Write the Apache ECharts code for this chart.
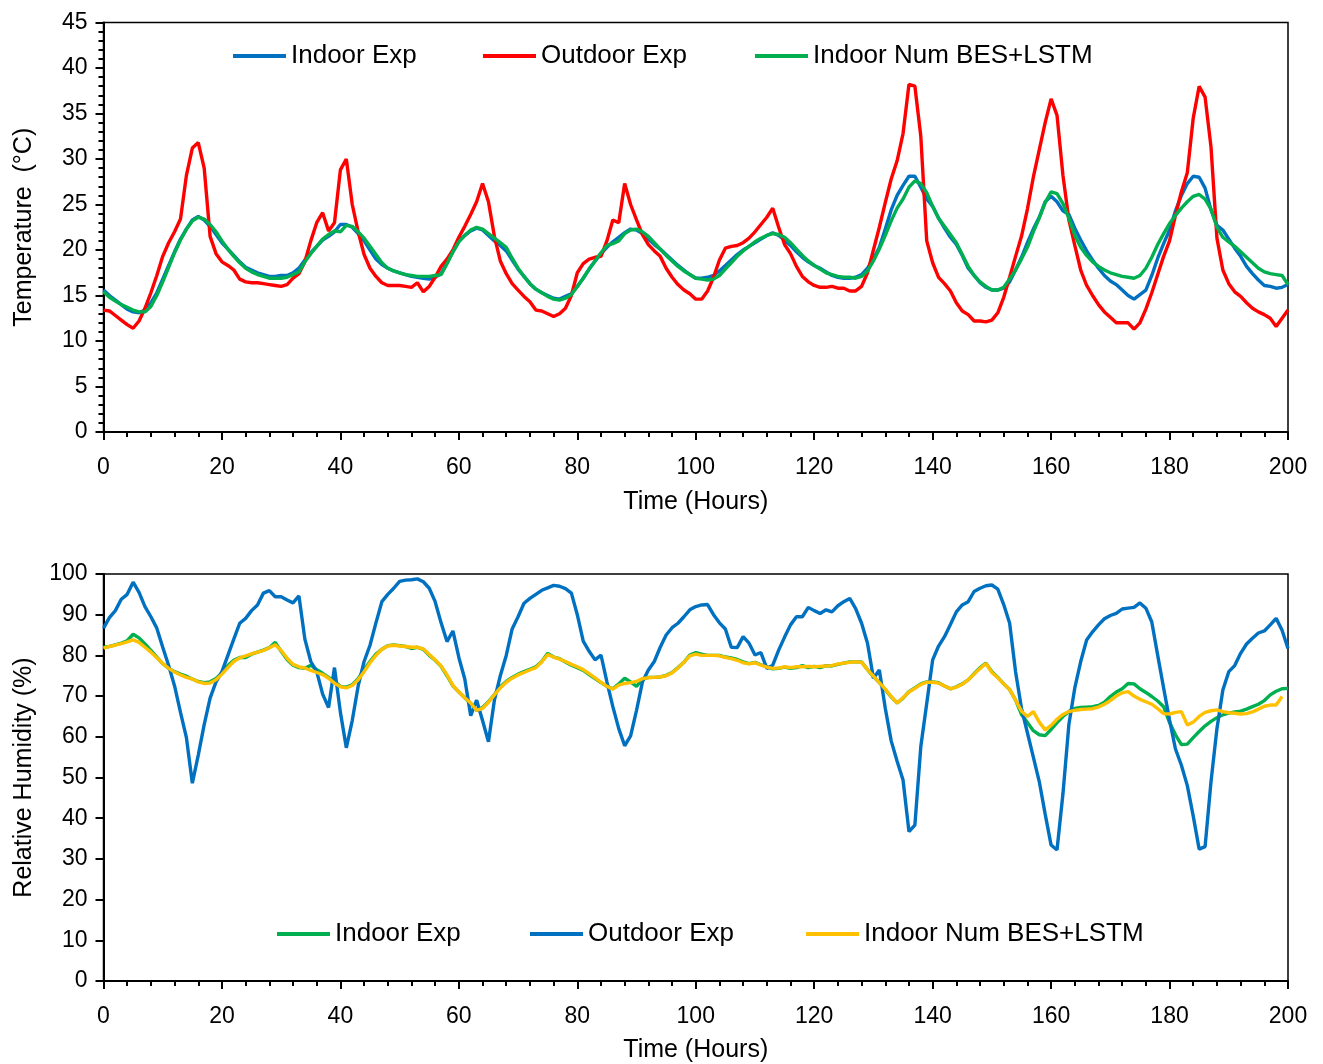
<!DOCTYPE html>
<html>
<head>
<meta charset="utf-8">
<title>Indoor / outdoor temperature and relative humidity</title>
<script src="https://cdn.jsdelivr.net/npm/echarts@6/dist/echarts.min.js"></script>
<style>
  html, body { margin: 0; padding: 0; background: #fff; overflow: hidden; }
  #temp { position: absolute; left: 0; top: 0; width: 1323px; height: 532px; }
  #rh   { position: absolute; left: 0; top: 532px; width: 1323px; height: 532px; }
</style>
</head>
<body>
<div id="temp"></div>
<div id="rh"></div>
<script>
// Hourly time stamps (0 .. 200 h)
const HOURS = Array.from({ length: 201 }, (_, i) => i);

// Temperature (°C)
const tempIndoorExp = [
  15.6,15.0,14.5,14.0,13.5,13.2,13.1,13.4,14.2,15.3,16.8,18.3,19.8,21.2,22.3,23.3,23.7,23.3,22.6,21.7,
  20.8,20.1,19.4,18.7,18.1,17.8,17.5,17.3,17.1,17.1,17.2,17.2,17.5,18.0,18.9,19.7,20.4,21.1,21.5,22.0,
  22.8,22.8,22.5,21.8,21.0,20.0,19.0,18.4,18.0,17.7,17.5,17.3,17.1,17.0,16.9,16.8,17.0,17.4,18.6,19.8,
  21.0,21.6,22.1,22.4,22.2,21.6,21.0,20.5,19.9,18.9,17.9,17.1,16.3,15.7,15.3,15.0,14.7,14.6,14.9,15.2,
  16.0,16.9,17.9,18.8,19.6,20.3,20.9,21.4,21.9,22.3,22.2,21.8,21.2,20.6,20.1,19.5,18.9,18.3,17.8,17.3,
  16.9,16.9,17.0,17.2,17.7,18.3,18.9,19.5,20.0,20.4,20.8,21.2,21.6,21.9,21.6,21.1,20.5,19.8,19.2,18.7,
  18.3,18.0,17.6,17.2,17.0,16.9,16.9,17.0,17.3,18.0,19.0,20.3,22.3,24.4,26.0,27.1,28.1,28.1,26.9,25.6,
  24.8,23.5,22.4,21.4,20.6,19.4,18.0,17.2,16.4,15.9,15.6,15.6,15.8,16.5,17.8,19.2,20.8,22.3,23.6,25.3,
  25.9,25.3,24.3,23.9,22.4,21.1,19.9,18.9,18.0,17.2,16.6,16.2,15.6,15.0,14.6,15.1,15.6,17.2,19.1,20.7,
  22.2,24.3,26.0,27.3,28.1,28.0,26.8,24.4,22.7,22.2,21.2,20.2,19.3,18.2,17.4,16.7,16.1,16.0,15.8,15.9,
  16.2
];
const tempOutdoorExp = [
  13.4,13.3,12.8,12.3,11.8,11.4,12.2,13.6,15.3,17.2,19.3,20.8,22.0,23.4,28.2,31.2,31.8,29.0,21.5,19.6,
  18.7,18.3,17.8,16.8,16.5,16.4,16.4,16.3,16.2,16.1,16.0,16.2,16.9,17.4,18.7,21.0,23.0,24.1,22.1,23.0,
  28.8,30.0,25.0,22.0,19.5,18.0,17.1,16.4,16.1,16.1,16.1,16.0,15.9,16.4,15.4,16.0,17.0,18.2,19.0,20.0,
  21.4,22.6,23.9,25.3,27.3,25.3,21.5,18.8,17.4,16.3,15.6,14.9,14.3,13.4,13.3,13.0,12.7,13.0,13.6,15.0,
  17.5,18.5,19.0,19.2,19.3,21.0,23.3,23.0,27.3,25.0,23.3,21.7,20.6,19.9,19.3,18.0,17.0,16.2,15.6,15.2,
  14.6,14.6,15.5,17.0,18.9,20.2,20.4,20.5,20.8,21.3,22.0,22.8,23.6,24.6,22.5,20.6,19.6,18.2,17.1,16.5,
  16.1,15.9,15.9,16.0,15.8,15.8,15.5,15.5,16.0,17.5,20.0,22.5,25.2,27.8,29.8,32.8,38.2,38.0,32.5,21.0,
  18.6,17.0,16.3,15.5,14.2,13.3,12.9,12.2,12.2,12.1,12.3,13.1,14.8,17.0,19.3,21.5,24.5,28.0,31.0,34.0,
  36.6,34.8,28.2,23.3,20.5,17.8,16.1,15.0,14.0,13.2,12.6,12.0,12.0,12.0,11.3,12.0,13.5,15.3,17.3,19.3,
  21.0,23.8,26.4,28.5,34.5,38.0,36.8,31.3,21.3,17.8,16.3,15.4,14.9,14.2,13.6,13.2,12.9,12.5,11.6,12.5,
  13.4
];
const tempIndoorNum = [
  15.4,14.8,14.4,14.0,13.7,13.4,13.2,13.2,13.8,15.0,16.5,18.1,19.7,21.1,22.3,23.2,23.6,23.4,22.8,22.0,
  21.0,20.1,19.3,18.6,18.0,17.6,17.3,17.1,16.9,16.9,16.9,17.0,17.3,17.6,18.7,19.6,20.4,21.2,21.7,22.1,
  22.0,22.7,22.6,22.0,21.3,20.4,19.5,18.6,18.0,17.7,17.5,17.3,17.2,17.1,17.1,17.1,17.2,17.3,18.5,19.8,
  20.9,21.6,22.2,22.5,22.3,21.8,21.3,20.8,20.3,19.1,18.0,17.1,16.3,15.7,15.3,14.9,14.6,14.5,14.7,15.1,
  16.0,16.9,17.9,18.8,19.7,20.5,20.7,21.0,21.8,22.2,22.3,22.0,21.5,20.8,20.1,19.4,18.8,18.2,17.7,17.3,
  16.9,16.8,16.7,16.8,17.2,17.9,18.6,19.3,19.9,20.4,20.9,21.3,21.6,21.8,21.7,21.4,20.8,20.1,19.4,18.8,
  18.3,17.9,17.5,17.3,17.1,17.0,17.0,16.9,17.1,17.7,18.8,20.1,21.6,23.2,24.6,25.6,26.9,27.6,27.3,26.3,
  24.8,23.5,22.6,21.7,20.8,19.5,18.2,17.2,16.5,16.0,15.6,15.6,15.9,16.8,17.8,19.0,20.3,22.0,23.5,25.2,
  26.4,26.2,25.1,23.5,21.6,20.3,19.4,18.7,18.2,17.8,17.5,17.3,17.1,17.0,16.9,17.2,18.0,19.2,20.6,21.8,
  22.9,23.8,24.6,25.3,25.9,26.1,25.6,24.5,22.5,21.4,20.9,20.4,19.8,19.2,18.6,18.0,17.6,17.4,17.3,17.2,
  16.2
];

// Relative humidity (%)
const rhIndoorExp = [
  82.0,82.2,82.6,83.0,83.6,85.2,84.3,82.8,81.2,79.6,78.0,76.8,76.0,75.4,74.9,74.2,73.6,73.3,73.5,74.3,
  75.7,77.5,78.8,79.5,79.5,80.3,80.8,81.3,81.9,83.2,81.0,79.0,77.6,77.0,76.8,77.6,76.5,75.6,74.6,73.6,
  72.4,72.2,72.8,74.3,76.5,78.5,80.3,81.5,82.4,82.6,82.4,82.2,81.7,82.0,81.5,80.0,78.8,77.3,75.0,72.5,
  71.0,69.6,68.2,66.5,67.2,68.6,70.4,72.3,73.6,74.6,75.4,76.0,76.6,77.2,78.5,80.5,79.6,79.2,78.4,77.6,
  77.0,76.3,75.3,74.3,73.3,72.4,71.8,73.0,74.4,73.5,72.4,74.2,74.6,74.6,74.7,75.1,75.8,77.0,78.3,80.1,
  80.7,80.3,80.0,80.0,80.0,79.6,79.4,79.0,78.4,78.0,78.3,77.7,77.2,76.7,76.8,77.1,76.8,77.0,77.5,77.0,
  77.3,77.0,77.5,77.4,77.8,78.1,78.4,78.4,78.4,76.5,74.8,73.3,71.6,69.8,68.3,69.5,71.1,72.0,73.0,73.5,
  73.5,73.3,72.5,71.8,72.3,73.0,74.0,75.5,77.0,78.1,76.0,74.6,73.0,71.6,69.0,65.5,63.5,61.5,60.5,60.3,
  61.8,63.5,65.0,66.2,67.0,67.2,67.3,67.4,67.7,68.5,69.9,71.0,71.8,73.1,73.0,71.8,70.9,69.9,68.8,67.4,
  63.5,60.5,58.1,58.2,59.8,61.3,62.7,63.8,64.7,65.4,65.8,66.1,66.3,66.8,67.4,68.0,68.9,70.3,71.2,71.8,
  71.9
];
const rhOutdoorExp = [
  86.7,89.3,91.0,93.8,95.0,98.0,95.5,92.0,89.5,86.7,82.0,77.5,72.5,66.0,59.8,48.6,55.5,63.0,69.5,73.5,
  76.0,80.0,84.0,87.9,89.1,91.0,92.4,95.3,95.9,94.4,94.4,93.6,92.9,94.6,84.0,78.5,76.0,70.5,67.2,77.0,
  66.0,57.3,64.0,72.5,78.5,82.5,88.0,93.2,95.0,96.5,98.2,98.5,98.6,98.8,98.1,96.5,93.2,88.0,83.4,86.0,
  79.5,74.2,65.2,69.0,64.0,58.8,69.0,75.0,80.0,86.5,89.5,92.8,94.0,95.0,96.0,96.6,97.2,97.0,96.4,95.3,
  90.0,83.5,81.0,78.9,80.1,73.5,67.4,62.0,57.8,60.2,66.5,73.5,76.4,78.5,82.0,85.0,86.8,87.9,89.5,91.2,
  92.0,92.4,92.5,90.0,88.0,86.5,82.0,81.9,84.6,83.0,80.1,80.7,76.8,77.6,81.3,84.5,87.5,89.5,89.5,91.8,
  91.0,90.3,91.2,90.7,92.2,93.2,94.0,91.5,87.9,83.0,74.4,76.4,67.0,59.0,54.0,49.4,36.7,38.3,57.6,68.2,
  78.9,82.3,84.6,87.6,90.7,92.4,93.2,95.7,96.5,97.1,97.3,96.3,92.5,87.9,76.0,67.0,61.0,55.0,49.0,41.0,
  33.4,32.2,46.0,63.0,72.0,78.5,83.8,85.8,87.5,89.0,89.8,90.3,91.4,91.6,91.8,92.9,91.6,88.2,80.0,72.0,
  64.1,57.0,53.0,48.0,40.5,32.4,33.0,49.0,62.0,71.5,76.0,77.5,80.5,82.8,84.2,85.5,86.0,87.5,89.1,86.2,
  81.7
];
const rhIndoorNum = [
  81.8,82.2,82.5,82.9,83.3,83.8,83.2,82.0,80.8,79.4,78.0,76.8,75.9,75.2,74.6,74.2,73.5,73.1,73.2,74.0,
  75.4,77.0,78.5,79.4,79.9,80.4,80.8,81.2,81.9,82.6,81.2,79.3,77.8,77.2,76.9,76.3,75.8,75.3,74.4,73.2,
  72.3,72.0,72.6,74.0,76.0,78.2,80.0,81.5,82.3,82.5,82.3,82.2,82.0,82.0,81.6,80.2,78.9,77.4,75.2,72.6,
  71.0,69.6,68.3,66.5,67.0,68.5,70.3,72.0,73.4,74.4,75.2,75.8,76.4,77.0,78.4,80.2,79.6,79.1,78.5,77.8,
  77.2,76.5,75.5,74.5,73.4,72.4,71.7,72.7,73.1,73.3,73.6,74.3,74.5,74.6,74.7,75.0,75.7,76.9,78.3,79.9,
  80.3,80.0,80.0,80.0,79.9,79.5,79.2,78.8,78.2,77.9,78.2,77.6,77.1,76.8,76.9,77.2,77.0,77.2,77.2,77.3,
  77.2,77.3,77.4,77.5,77.9,78.1,78.3,78.4,78.3,76.5,74.9,73.3,71.7,69.9,68.3,69.6,71.0,71.9,72.9,73.4,
  73.4,73.2,72.5,71.8,72.2,72.9,74.0,75.4,76.8,78.0,75.8,74.5,73.0,71.6,69.0,66.3,65.0,66.2,63.6,61.7,
  62.8,64.3,65.5,66.2,66.5,66.7,66.8,66.9,67.3,68.0,68.9,70.0,70.8,71.1,70.0,69.2,68.6,68.0,66.9,65.7,
  65.6,66.0,66.2,62.9,63.6,65.0,66.0,66.4,66.6,66.2,65.9,65.8,65.6,65.7,66.1,66.8,67.5,67.8,67.8,69.9
];

const FONT = '"Liberation Sans", Arial, sans-serif';
const BLACK = '#000';

function pairs(values) {
  return values.map((v, i) => [HOURS[i], v]);
}

function xAxisCfg(nameGap) {
  return {
    type: 'value', min: 0, max: 200, interval: 20,
    name: 'Time (Hours)', nameLocation: 'middle', nameGap: nameGap,
    nameTextStyle: { fontSize: 25, color: BLACK, fontFamily: FONT },
    axisLine: { show: true, lineStyle: { color: BLACK, width: 2 } },
    axisTick: { show: true, inside: false, length: 8, lineStyle: { color: BLACK, width: 2 } },
    minorTick: { show: true, splitNumber: 5, length: 5, lineStyle: { color: BLACK, width: 2 } },
    splitLine: { show: false },
    minorSplitLine: { show: false },
    axisLabel: { fontSize: 23, color: BLACK, fontFamily: FONT, margin: 24 }
  };
}

function yAxisCfg(max, interval, name, minor) {
  return {
    type: 'value', min: 0, max: max, interval: interval,
    name: name, nameLocation: 'middle', nameGap: 67, nameRotate: 90,
    nameTextStyle: { fontSize: 25, color: BLACK, fontFamily: FONT },
    axisLine: { show: true, lineStyle: { color: BLACK, width: 2 } },
    axisTick: { show: true, inside: false, length: 8, lineStyle: { color: BLACK, width: 2 } },
    minorTick: { show: minor, splitNumber: 5, length: 5, lineStyle: { color: BLACK, width: 2 } },
    splitLine: { show: false },
    minorSplitLine: { show: false },
    axisLabel: { fontSize: 23, color: BLACK, fontFamily: FONT, margin: 16 }
  };
}

function gridCfg(top, height) {
  return {
    left: 103.5, right: 35, top: top, height: height,
    containLabel: false, outerBoundsMode: 'none',
    show: true, borderColor: BLACK, borderWidth: 1.5, backgroundColor: 'transparent'
  };
}

function lineSeries(name, values, color) {
  return {
    name: name, type: 'line', data: pairs(values),
    color: color, showSymbol: false, symbol: 'none',
    lineStyle: { color: color, width: 3.4 },
    emphasis: { disabled: true }
  };
}

function legendItem(name, left, top) {
  return {
    data: [name], left: left, top: top, padding: 0,
    icon: 'rect', itemWidth: 53, itemHeight: 3.8,
    textStyle: { fontSize: 26, color: BLACK, fontFamily: FONT, lineHeight: 30 },
    selectedMode: false
  };
}

const BLUE = '#0070C0', RED = '#FF0000', GREEN = '#00B050', GOLD = '#FFC000';

const tempChart = echarts.init(document.getElementById('temp'), null, { renderer: 'canvas' });
tempChart.setOption({
  animation: false,
  textStyle: { fontFamily: FONT },
  grid: gridCfg(22.5, 409.5),
  xAxis: xAxisCfg(58),
  yAxis: yAxisCfg(45, 5, 'Temperature  (°C)', true),
  legend: [
    legendItem('Indoor Exp', 233, 41),
    legendItem('Outdoor Exp', 483, 41),
    legendItem('Indoor Num BES+LSTM', 755, 41)
  ],
  series: [
    lineSeries('Indoor Exp', tempIndoorExp, BLUE),
    lineSeries('Outdoor Exp', tempOutdoorExp, RED),
    lineSeries('Indoor Num BES+LSTM', tempIndoorNum, GREEN)
  ]
});

const rhChart = echarts.init(document.getElementById('rh'), null, { renderer: 'canvas' });
rhChart.setOption({
  animation: false,
  textStyle: { fontFamily: FONT },
  grid: gridCfg(42, 407),
  xAxis: xAxisCfg(57),
  yAxis: yAxisCfg(100, 10, 'Relative Humidity (%)', false),
  legend: [
    legendItem('Indoor Exp', 277, 387),
    legendItem('Outdoor Exp', 530, 387),
    legendItem('Indoor Num BES+LSTM', 806, 387)
  ],
  series: [
    lineSeries('Indoor Exp', rhIndoorExp, GREEN),
    lineSeries('Outdoor Exp', rhOutdoorExp, BLUE),
    lineSeries('Indoor Num BES+LSTM', rhIndoorNum, GOLD)
  ]
});
</script>
</body>
</html>
